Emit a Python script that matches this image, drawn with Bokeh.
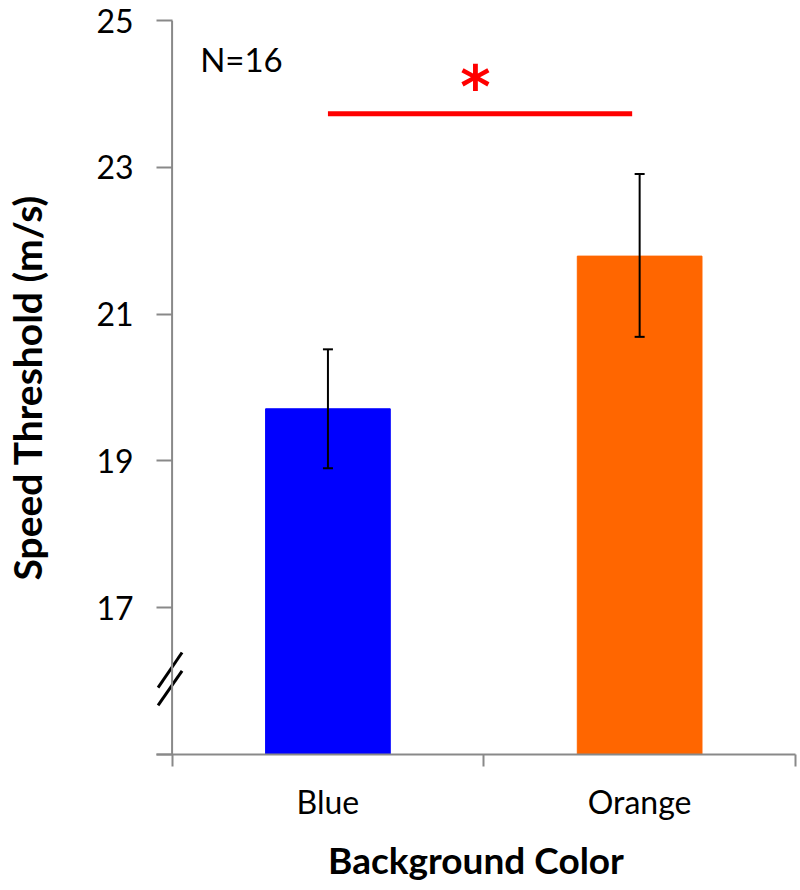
from bokeh.plotting import figure
from bokeh.models import (ColumnDataSource, FixedTicker, Whisker, TeeHead, Span,
                          Range1d)
from bokeh.core.properties import value
from bokeh.embed import file_html
from bokeh.resources import INLINE

# ---- data ----
categories = ["Blue", "Orange"]
means = [19.71, 21.79]
err_upper = [20.52, 22.91]
err_lower = [18.90, 20.69]
bar_colors = ["#0000FF", "#FF6600"]
y_ticks = [15, 17, 19, 21, 23, 25]
n_label = "N=16"
sig_y = 23.73
sig_mark = "*"

FONT = "Lato"
AX = "#898989"

xs = [i + 0.5 for i in range(len(categories))]
src = ColumnDataSource(dict(x=xs, top=means, upper=err_upper, lower=err_lower,
                            color=bar_colors, name=categories))

# small left pad in x so the axis-break marks can cross the y axis line
X_PAD = 0.05
p = figure(width=798, height=888, output_backend="svg", toolbar_location=None,
           x_range=Range1d(-X_PAD, len(categories)), y_range=Range1d(y_ticks[0], y_ticks[-1]),
           min_border_left=156, min_border_right=3, min_border_top=20, min_border_bottom=134)
p.outline_line_color = None
p.xgrid.visible = False
p.ygrid.visible = False
p.background_fill_color = "white"
p.border_fill_color = "white"

# y axis line at x = 0
p.add_layout(Span(location=0, dimension="height", line_color=AX, line_width=2))

p.vbar(x="x", top="top", bottom=y_ticks[0], width=0.4, color="color", source=src)

w = Whisker(base="x", upper="upper", lower="lower", source=src, line_width=2,
            line_color="black", level="overlay",
            upper_head=TeeHead(size=10, line_width=2, line_color="black"),
            lower_head=TeeHead(size=10, line_width=2, line_color="black"))
p.add_layout(w)

# significance bar
p.line(x=[xs[0], xs[1] - 0.024], y=[sig_y, sig_y], line_color="#FF0000", line_width=5)
p.text(x=[(xs[0] + xs[1]) / 2 - 0.027], y=[sig_y + 0.37], text=[sig_mark],
       text_font=value("DejaVu Sans"), text_font_style="bold", text_font_size="58px",
       text_color="#FF0000", text_align="center", text_baseline="alphabetic")

# N label
p.text(x=[0.09], y=[24.47], text=[n_label], text_font=value(FONT),
       text_font_size="33px", text_color="black", text_align="left",
       text_baseline="alphabetic")

# axis break marks "//"
p.segment(x0=[-0.045, -0.045], y0=[15.67, 15.91], x1=[0.032, 0.032], y1=[16.14, 16.39],
          line_color="black", line_width=3)

# y axis (ticks drawn inward from frame edge up to the y axis line)
ya = p.yaxis[0]
ya.ticker = FixedTicker(ticks=y_ticks, minor_ticks=[])
ya.major_label_overrides = {y_ticks[0]: ""}
ya.axis_line_color = None
ya.major_tick_line_color = AX
ya.major_tick_line_width = 2
ya.major_tick_out = 0
ya.major_tick_in = 16
ya.minor_tick_line_color = None
ya.major_label_standoff = 23
ya.major_label_text_font = FONT
ya.major_label_text_font_size = "32px"
ya.major_label_text_color = "black"
ya.axis_label = "Speed Threshold (m/s)"
ya.axis_label_text_font = FONT
ya.axis_label_text_font_style = "bold"
ya.axis_label_text_font_size = "39px"
ya.axis_label_text_color = "black"
ya.axis_label_standoff = 43

# x axis
xa = p.xaxis[0]
xa.ticker = FixedTicker(ticks=xs, minor_ticks=list(range(len(categories) + 1)))
xa.major_label_overrides = {x: c for x, c in zip(xs, categories)}
xa.axis_line_color = AX
xa.axis_line_width = 2
xa.major_tick_line_color = None
xa.major_tick_out = 0
xa.major_tick_in = 0
xa.minor_tick_line_color = AX
xa.minor_tick_line_width = 2
xa.minor_tick_out = 12
xa.minor_tick_in = 0
xa.major_label_standoff = 15
xa.major_label_text_font = FONT
xa.major_label_text_font_size = "32px"
xa.major_label_text_color = "black"
xa.axis_label = "Background Color"
xa.axis_label_text_font = FONT
xa.axis_label_text_font_style = "bold"
xa.axis_label_text_font_size = "37px"
xa.axis_label_text_color = "black"
xa.axis_label_standoff = 13

open("out.html", "w").write(file_html(p, INLINE))
